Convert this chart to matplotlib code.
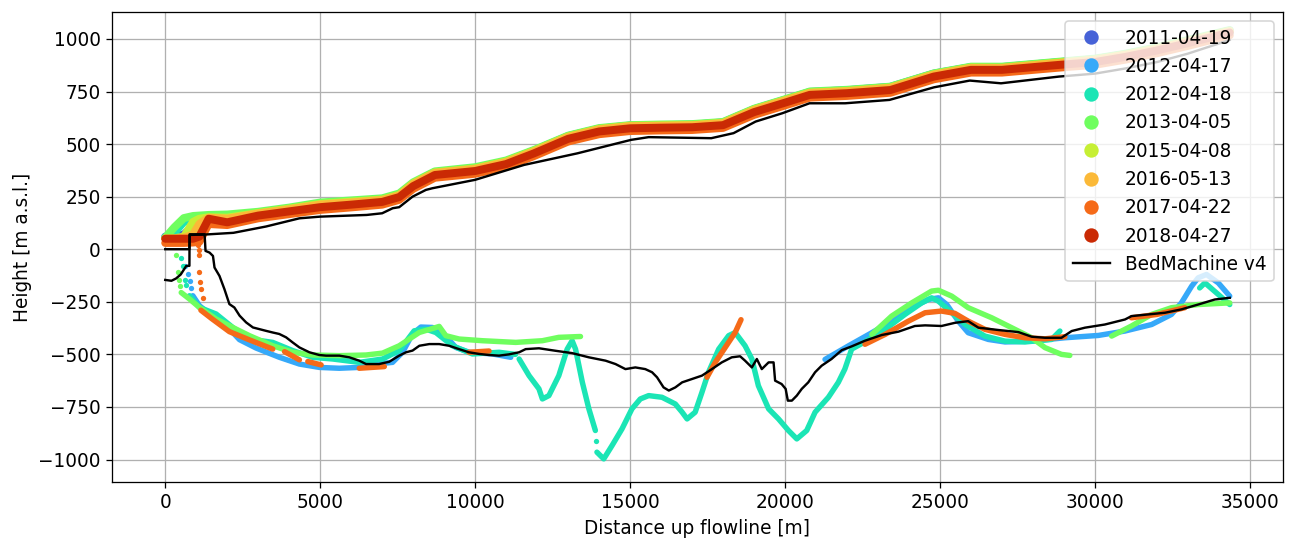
import numpy as np
import matplotlib
matplotlib.use("Agg")
import matplotlib.pyplot as plt
from matplotlib.lines import Line2D

plt.rcParams['font.size'] = 11.6

nan = np.nan

dates = ['2011-04-19', '2012-04-17', '2012-04-18', '2013-04-05',
         '2015-04-08', '2016-05-13', '2017-04-22', '2018-04-27']
colors = ['#4662d7', '#36a9f9', '#1be5b5', '#6ffe5f',
          '#c6ef34', '#fbb938', '#f56a18', '#ca2a04']

# surface picks (shared distances), one height list per survey
surf_x = [0, 300, 600, 900, 1100, 1400, 2000, 3000, 4000, 5000, 6000, 7000, 7550,
          8000, 8700, 10000, 11000, 11900, 13000, 14000, 15000, 16000, 17000,
          18000, 19000, 20000, 20800, 22000, 23400, 24800, 26000, 27000, 28800,
          30000, 31000, 32000, 33000, 34350]
surf_2011 = [60, 60, 70, 110, 140, 152, 150, 170, 191, 213, 224, 236, 258, 312, 366, 385,
             418, 469, 538, 573, 588, 590, 592, 603, 666, 711, 748, 756, 772, 835, 866,
             866, 889, 904, 928, 957, 992, 1040]
surf_2012a = [55, 90, 140, 150, 150, 155, 152, 170, 190, 212, 222, 234, 256, 310, 363, 382,
              415, 466, 534, 570, 585, 587, 589, 599, 662, 707, 743, 751, 767, 830, 862,
              862, 885, 900, 924, 953, 988, 1036]
surf_2012b = [54, 80, 130, 145, 148, 152, 148, 168, 188, 210, 220, 232, 254, 308, 361, 380,
              413, 464, 532, 568, 583, 585, 587, 597, 660, 705, 741, 749, 765, 828, 860,
              860, 883, 898, 922, 951, 986, 1034]
surf_2013 = [55, 105, 148, 158, 160, 163, 165, 178, 198, 222, 232, 242, 265, 318, 370, 390,
             422, 472, 540, 576, 590, 593, 595, 605, 668, 713, 750, 758, 773, 836, 868,
             868, 891, 906, 930, 960, 995, 1042]
surf_2015 = [52, 52, 60, 130, 145, 152, 150, 172, 193, 215, 226, 236, 258, 313, 365, 384,
             417, 468, 536, 572, 587, 589, 591, 601, 664, 709, 745, 753, 769, 832, 864,
             863, 887, 902, 926, 955, 990, 1038]
surf_2016 = [50, 50, 55, 70, 120, 150, 145, 170, 190, 212, 222, 234, 256, 310, 363, 382,
             414, 465, 534, 570, 585, 587, 589, 599, 662, 707, 743, 751, 767, 830, 862,
             862, 885, 900, 924, 953, 988, 1036]
surf_2017 = [30, 30, 30, 32, 35, 120, 115, 147, 167, 187, 199, 212, 235, 287, 340, 359,
             392, 443, 512, 547, 562, 565, 567, 577, 639, 684, 721, 729, 744, 808, 840,
             840, 863, 877, 902, 932, 967, 1017]
surf_2018 = [50, 50, 50, 50, 60, 145, 128, 160, 180, 200, 212, 225, 248, 300, 353, 372,
             405, 456, 525, 560, 575, 578, 580, 590, 652, 697, 734, 742, 757, 821, 853,
             853, 876, 890, 915, 945, 980, 1030]

# bed picks (NaN = gap in the picks)
bed_2012a_x = [891, 1106, 1643, 2180, 2395, 2932, 3684, 4328, 4973, 5617, 6261, 6798, 7335,
               7658, 7980, 8248, 8624, 8946, 9376, 9806, 10558, 11150, nan,
               21290, 22040, 22800, 23440, 24090, 24620, 24950, 25220, 25590, 25910, 26560,
               27100, 27960, 29030, 30110, 30970, 31830, 32470, 32790, 33120, 33330, 33600,
               33980, 34350]
bed_2012a_y = [-221, -269, -332, -396, -430, -470, -514, -546, -562, -566, -562, -546, -538,
               -490, -403, -370, -372, -396, -467, -490, -498, -514, nan,
               -524, -460, -397, -342, -278, -239, -231, -263, -342, -397, -429,
               -441, -437, -421, -410, -389, -358, -310, -255, -176, -136, -120,
               -160, -223]
bed_2012b_x = [784, 1106, 1643, 2180, 2717, 3469, 4114, 4758, 5402, 6261, 7013, 7550, 8033,
               8410, 8732, 9269, 9913, 10772, 11300, nan,
               11420, 11740, 12060, 12170, 12380, 12700, 12970, 13130, 13240, 13460, 13670,
               13880, nan,
               13930, 14150, 14420, 14740, 15060, 15330, 15600, 16030, 16460, 16680, 16840,
               17100, 17320, 17530, 17860, 18180, 18390, 18710, 18930, 19140, 19470, 19790,
               20110, 20380, 20700, 20970, 21400, 21720, 21930, 22150, 22580, 23230, 23870,
               24410, 24730, 24950, 25380, 25810, 26450, 27100, 27740, 28600, 28870, nan,
               33380, 33550, 33980, 34350]
bed_2012b_y = [-221, -277, -308, -372, -427, -443, -482, -514, -522, -538, -522, -482, -388,
               -380, -396, -459, -498, -490, -500, nan,
               -522, -601, -664, -712, -696, -601, -475, -435, -475, -633, -759,
               -862, nan,
               -965, -997, -933, -854, -759, -712, -696, -704, -736, -775, -807,
               -775, -680, -585, -475, -411, -396, -459, -522, -649, -759, -807,
               -862, -902, -862, -775, -704, -633, -570, -475, -440, -381, -310,
               -255, -231, -247, -302, -358, -413, -437, -441, -429, -389, nan,
               -184, -160, -215, -263]
bed_2013_x = [515, 784, 1106, 1643, 2180, 2717, 3469, 4114, 4758, 5617, 6476, 7013, 7550,
              8195, 8732, 8840, 9054, 9483, 10235, 11310, 12170, 12700, 13400, nan,
              22800, 23440, 24090, 24730, 24950, 25380, 25910, 26670, 27310, 27960, 28390,
              28920, 29190, nan,
              30540, 31180, 31830, 32470, 33330, 34350]
bed_2013_y = [-206, -237, -277, -332, -372, -411, -459, -490, -503, -506, -503, -494, -459,
              -396, -372, -367, -411, -427, -435, -443, -435, -419, -415, nan,
              -405, -318, -255, -199, -195, -223, -278, -326, -373, -421, -468,
              -500, -505, nan,
              -413, -365, -310, -278, -263, -255]
bed_2017_x = [1150, 1500, 2070, 2700, 3470, nan, 3850, 4330, nan, 4600, 5030, nan,
              6260, 7070, nan, 9800, 10450, nan,
              17480, 17750, 18070, 18390, 18580, nan,
              22580, 23230, 23980, 24520, 25050, 25480, 25910, 26450, 27100, 27740, 28390,
              29030, nan, 31180, 32000, 32900]
bed_2017_y = [-290, -330, -392, -430, -475, nan, -487, -526, nan, -534, -550, nan,
              -566, -558, nan, -490, -484, nan,
              -609, -538, -467, -396, -335, nan,
              -452, -405, -342, -302, -294, -305, -342, -381, -405, -421, -426,
              -416, nan, -326, -310, -278]

# scattered single picks near the terminus
dots_2012a_x = [650, 730, 790, 838]
dots_2012a_y = [-80, -120, -150, -185]
dots_2012b_x = [515, 569, 622, 660, 13885]
dots_2012b_y = [-41, -81, -144, -170, -910]
dots_2013_x = [354, 408, 440, 462]
dots_2013_y = [-26, -106, -146, -176]
dots_2017_x = [1050, 1083, 1083, 1104, 1136, 1157, 1210]
dots_2017_y = [21, -3, -27, -106, -154, -190, -233]

# BedMachine v4 surface and bed
bm_surf_x = [0, 780, 790, 1300, 2200, 3250, 4330, 5000, 6500, 7000, 7340, 7550, 7980, 8410,
             8620, 10000, 11580, 13300, 15030, 15600, 17620, 18340, 19050, 19920, 20790,
             21940, 23370, 24810, 25960, 26970, 28840, 30000, 31000, 32000, 33000, 34350]
bm_surf_y = [0, 0, 68, 70, 78, 108, 147, 155, 163, 171, 195, 200, 250, 282,
             290, 330, 401, 456, 520, 533, 528, 552, 607, 647, 694,
             694, 710, 770, 802, 789, 821, 835, 860, 890, 930, 995]
bm_bed_x = [0, 200, 350, 500, 680, 780, 785, 1270, 1300, 1430, 1540, 1590, 1750, 1910, 2070,
            2230, 2400, 2610, 2830, 3040, 3250, 3470, 3680, 3900, 4110, 4330, 4650, 4970,
            5190, 5620, 5940, 6260, 6480, 6900, 7230, 7550, 7770, 7980, 8200, 8520, 8840,
            9160, 9480, 9800, 10130, 10450, 10770, 11090, 11420, 11630, 12060, 12600, 13130,
            13670, 14210, 14530, 14850, 15170, 15490, 15710, 15870, 16080, 16250, 16460,
            16680, 17000, 17320, 17640, 17960, 18280, 18550, 18710, 18930, 19090, 19250,
            19470, 19630, 19680, 19890, 20020, 20090, 20220, 20380, 20540, 20750, 20970,
            21180, 21500, 21830, 22150, 22580, 23120, 23660, 24190, 24520, 25050, 25480,
            25910, 26240, 26880, 27530, 27960, 28390, 28920, 29250, 29680, 30320, 30970,
            31180, 31720, 32260, 32790, 33330, 33870, 34350]
bm_bed_y = [-146, -150, -139, -120, -79, -79, 71, 71, -8, -16, -32, -87, -127, -190, -261,
            -277, -316, -348, -372, -380, -388, -396, -403, -419, -443, -467, -490, -503,
            -506, -506, -514, -530, -546, -546, -535, -506, -490, -482, -459, -451, -451,
            -459, -475, -490, -498, -503, -506, -500, -490, -475, -471, -483, -494,
            -514, -530, -546, -570, -562, -570, -585, -609, -657, -672, -657,
            -633, -617, -601, -570, -538, -514, -509, -530, -562, -522, -570,
            -538, -538, -625, -641, -664, -720, -720, -696, -664, -633, -585,
            -554, -522, -480, -462, -435, -408, -392, -365, -362, -365, -350,
            -342, -373, -384, -394, -416, -421, -421, -389, -373, -358, -334,
            -318, -310, -302, -286, -263, -239, -231]

surfaces = [surf_2011, surf_2012a, surf_2012b, surf_2013, surf_2015, surf_2016,
            surf_2017, surf_2018]
beds = {1: (bed_2012a_x, bed_2012a_y), 2: (bed_2012b_x, bed_2012b_y),
        3: (bed_2013_x, bed_2013_y), 6: (bed_2017_x, bed_2017_y)}
dots = {1: (dots_2012a_x, dots_2012a_y), 2: (dots_2012b_x, dots_2012b_y),
        3: (dots_2013_x, dots_2013_y), 6: (dots_2017_x, dots_2017_y)}

fig, ax = plt.subplots(figsize=(1295 / 115, 541 / 115), dpi=115)
fig.subplots_adjust(left=0.0865, right=0.9907, top=0.9778, bottom=0.109)

for i, date in enumerate(dates):
    c = colors[i]
    ax.plot(surf_x, surfaces[i], color=c, lw=5, solid_capstyle='round', zorder=2)
    if i in beds:
        bx, by = beds[i]
        ax.plot(bx, by, color=c, lw=3.4, solid_capstyle='round', zorder=2)
    if i in dots:
        dx, dy = dots[i]
        ax.scatter(dx, dy, color=c, s=11, zorder=2, linewidths=0)

ax.plot(bm_surf_x, bm_surf_y, color='black', lw=1.5, zorder=3)
ax.plot(bm_bed_x, bm_bed_y, color='black', lw=1.5, zorder=3)

handles = [Line2D([], [], marker='o', ls='', color=colors[i], markersize=8)
           for i in range(len(dates))]
handles.append(Line2D([], [], color='black', lw=1.5))
ax.legend(handles, dates + ['BedMachine v4'], loc='upper right')

ax.set_ylim(-1107, 1128)
ax.set_xlabel('Distance up flowline [m]')
ax.set_ylabel('Height [m a.s.l.]')
ax.grid(True)

fig.savefig('out.png', dpi=115)
